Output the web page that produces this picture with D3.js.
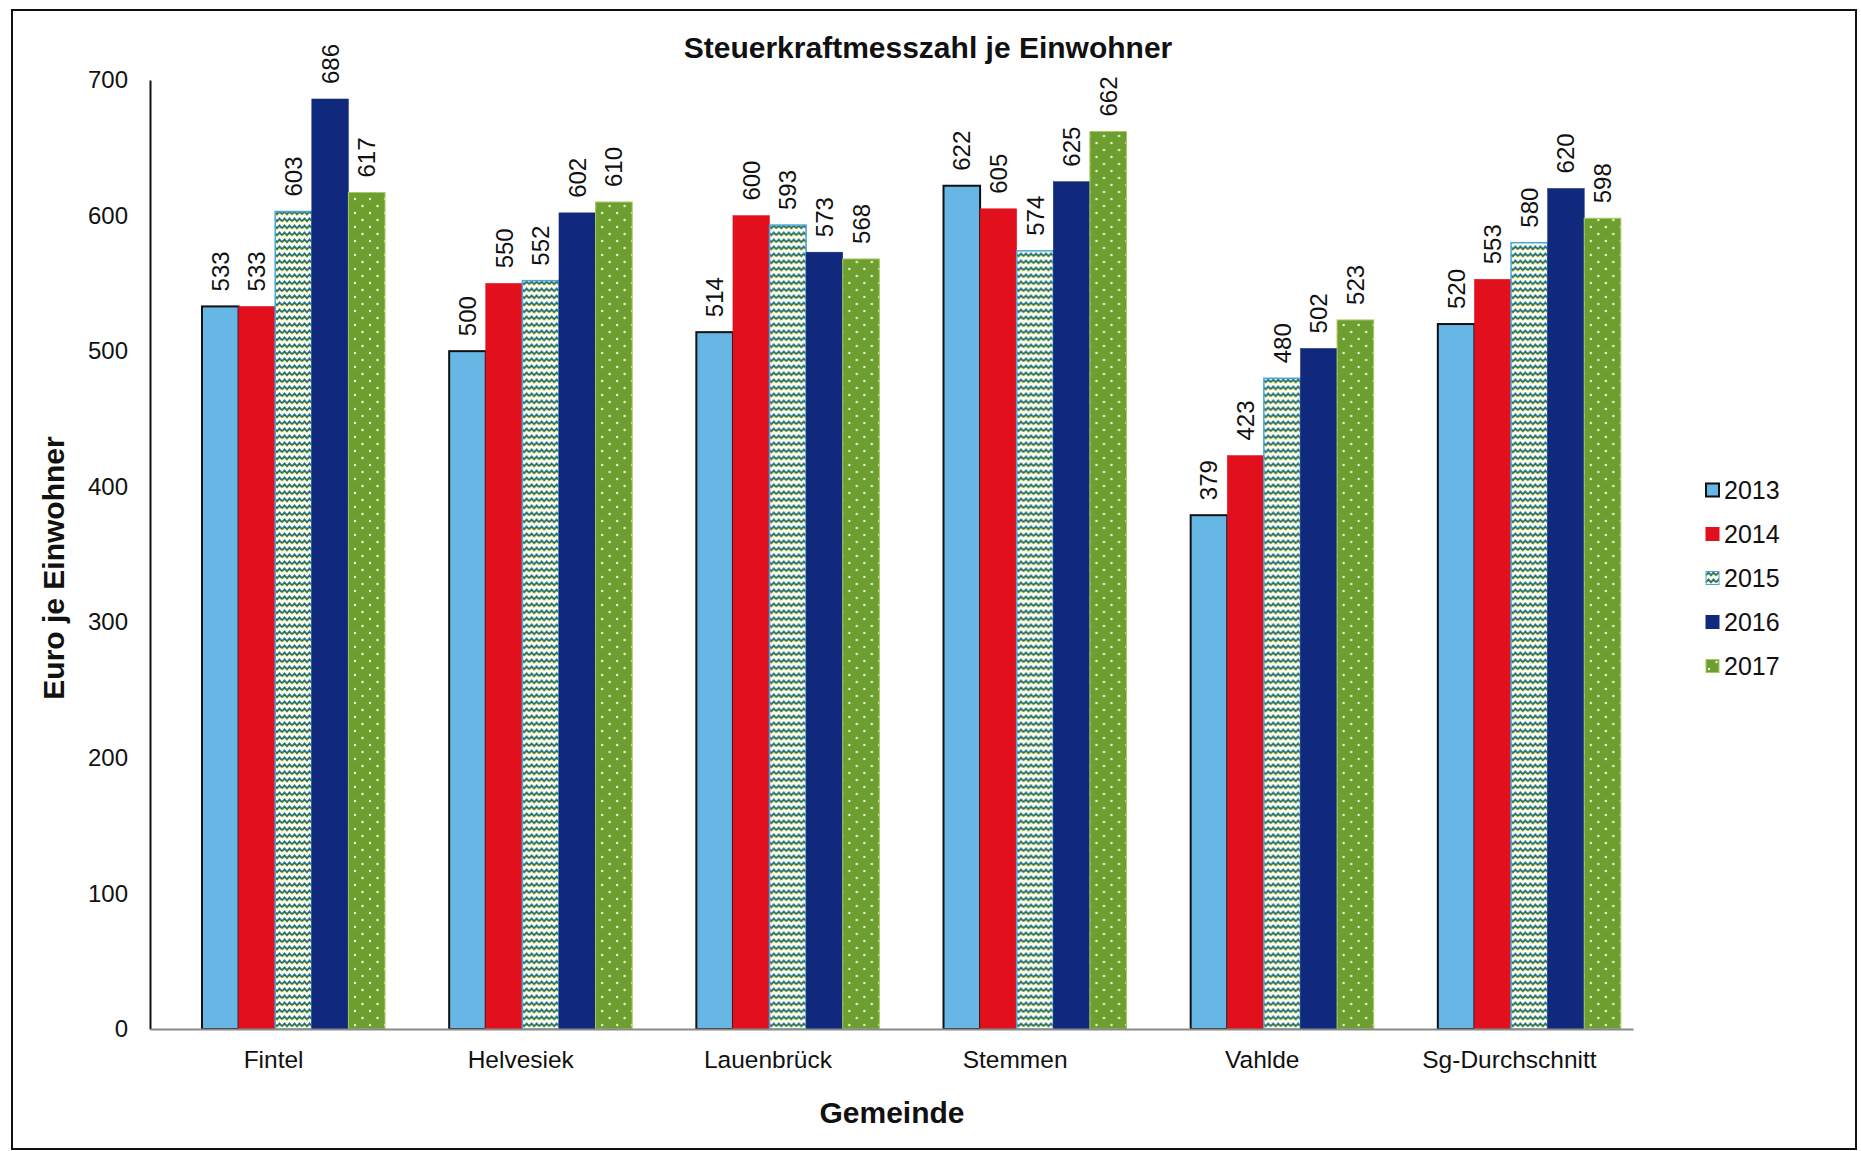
<!DOCTYPE html>
<html>
<head>
<meta charset="utf-8">
<script src="https://cdn.jsdelivr.net/npm/d3@7"></script>
<style>
  html, body { margin: 0; padding: 0; background: #fff; }
  svg text { font-family: "Liberation Sans", Arial, sans-serif; fill: #111; }
</style>
</head>
<body>
<svg id="chart" width="1861" height="1151"></svg>
<script>
// Steuerkraftmesszahl je Einwohner, 2013–2017
const categories = ["Fintel", "Helvesiek", "Lauenbrück", "Stemmen", "Vahlde", "Sg-Durchschnitt"];
const years = ["2013", "2014", "2015", "2016", "2017"];
const v2013 = [533, 500, 514, 622, 379, 520];
const v2014 = [533, 550, 600, 605, 423, 553];
const v2015 = [603, 552, 593, 574, 480, 580];
const v2016 = [686, 602, 573, 625, 502, 620];
const v2017 = [617, 610, 568, 662, 523, 598];
const yTicks = [0, 100, 200, 300, 400, 500, 600, 700];

const seriesValues = [v2013, v2014, v2015, v2016, v2017];

const plot = { left: 150, right: 1633, top: 80, bottom: 1029 };

const svg = d3.select("#chart");
const defs = svg.append("defs");

// zigzag hatch for 2015
const zz = defs.append("pattern").attr("id", "zigzag")
  .attr("patternUnits", "userSpaceOnUse").attr("width", 10).attr("height", 7);
zz.append("rect").attr("width", 10).attr("height", 7).attr("fill", "#fbfdf0");
zz.append("path").attr("d", "M0,5.2 L2.5,2.4 L5,5.2 L7.5,2.4 L10,5.2")
  .attr("fill", "none").attr("stroke", "#e6df33").attr("stroke-width", 1.2);
zz.append("path").attr("d", "M0,4.2 L2.5,1.4 L5,4.2 L7.5,1.4 L10,4.2")
  .attr("fill", "none").attr("stroke", "#2a6a6c").attr("stroke-width", 1.7);
zz.append("path").attr("d", "M0,3.2 L2.5,0.4 L5,3.2 L7.5,0.4 L10,3.2")
  .attr("fill", "none").attr("stroke", "#4aa6d8").attr("stroke-width", 0.7);

// dotted green for 2017
const dots = defs.append("pattern").attr("id", "dots")
  .attr("patternUnits", "userSpaceOnUse").attr("width", 15).attr("height", 14);
dots.append("rect").attr("width", 15).attr("height", 14).attr("fill", "#6c9f30");
dots.append("circle").attr("cx", 3).attr("cy", 3).attr("r", 1.2).attr("fill", "#f2f7d8");
dots.append("circle").attr("cx", 10.5).attr("cy", 10).attr("r", 1.2).attr("fill", "#f2f7d8");

const fills = ["#66b6e6", "#e1101c", "url(#zigzag)", "#10297c", "url(#dots)"];
const strokes = ["#111", "#e1101c", "#4aa6d8", "#10297c", "#a9c85c"];
const strokeW = [2, 0.5, 1.5, 0.5, 1];

// outer frame
svg.append("rect").attr("x", 12).attr("y", 10).attr("width", 1844).attr("height", 1139)
  .attr("fill", "none").attr("stroke", "#111").attr("stroke-width", 2);

const x0 = d3.scaleBand().domain(categories).range([plot.left, plot.right]);
const groupOffset = 52, groupWidth = 183;
const x1 = d3.scaleBand().domain(years).range([0, groupWidth]);
const y = d3.scaleLinear().domain([0, 700]).range([plot.bottom, plot.top]);

// bars with rotated value labels
const groups = svg.append("g").selectAll("g").data(categories).join("g")
  .attr("transform", d => `translate(${x0(d) + groupOffset},0)`);

groups.each(function (cat, ci) {
  const g = d3.select(this);
  const rows = years.map((yr, si) => ({ yr, si, v: seriesValues[si][ci] }));
  g.selectAll("rect").data(rows).join("rect")
    .attr("x", d => x1(d.yr))
    .attr("y", d => y(d.v))
    .attr("width", x1.bandwidth())
    .attr("height", d => y(0) - y(d.v))
    .attr("fill", d => fills[d.si])
    .attr("stroke", d => strokes[d.si])
    .attr("stroke-width", d => strokeW[d.si]);
  g.selectAll("text").data(rows).join("text")
    .attr("transform", d => `translate(${x1(d.yr) + x1.bandwidth() / 2 + 8.5},${y(d.v) - 15}) rotate(-90)`)
    .attr("font-size", 24)
    .text(d => d.v);
});

// y axis
const yAxis = d3.axisLeft(y).tickValues(yTicks).tickSize(0).tickPadding(22);
const yg = svg.append("g").attr("transform", `translate(${plot.left},0)`).call(yAxis);
yg.select(".domain").attr("stroke", "#111").attr("stroke-width", 2);
yg.selectAll("text").attr("font-size", 24).attr("fill", "#111")
  .style("font-family", "'Liberation Sans', Arial, sans-serif");

// x axis
const xAxis = d3.axisBottom(x0).tickSize(0).tickPadding(22);
const xg = svg.append("g").attr("transform", `translate(0,${plot.bottom})`).call(xAxis);
xg.select(".domain").attr("stroke", "#8a8a8a").attr("stroke-width", 2);
xg.selectAll("text").attr("font-size", 24.5).attr("fill", "#111")
  .style("font-family", "'Liberation Sans', Arial, sans-serif");

// titles
svg.append("text").attr("x", 928).attr("y", 58).attr("text-anchor", "middle")
  .attr("font-size", 30).attr("font-weight", "bold").text("Steuerkraftmesszahl je Einwohner");
svg.append("text").attr("transform", "translate(64,568) rotate(-90)").attr("text-anchor", "middle")
  .attr("font-size", 30).attr("font-weight", "bold").text("Euro je Einwohner");
svg.append("text").attr("x", 892).attr("y", 1123).attr("text-anchor", "middle")
  .attr("font-size", 30).attr("font-weight", "bold").text("Gemeinde");

// legend
const legend = svg.append("g").selectAll("g").data(years).join("g")
  .attr("transform", (d, i) => `translate(1706,${490 + i * 44})`);
legend.append("rect").attr("x", 0).attr("y", -6.5).attr("width", 13).attr("height", 13)
  .attr("fill", (d, i) => fills[i]).attr("stroke", (d, i) => i === 0 ? "#111" : strokes[i])
  .attr("stroke-width", (d, i) => i === 0 ? 2 : 1);
legend.append("text").attr("x", 18).attr("y", 0).attr("dy", "0.35em")
  .attr("font-size", 25).text(d => d);
</script>
</body>
</html>
